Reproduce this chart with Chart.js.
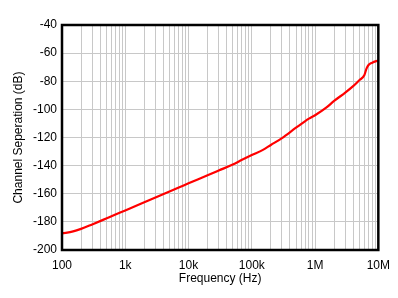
<!DOCTYPE html>
<html><head><meta charset="utf-8">
<script src="https://cdn.jsdelivr.net/npm/chart.js@4"></script>
<style>html,body{margin:0;padding:0;background:#fff}#w{width:398px;height:298px}</style>
</head><body><div id="w"><canvas id="c"></canvas></div>
<script>
const freqHz = [100,150,200,300,500,700,1000,2000,3000,5000,7000,10000,20000,30000,50000,70000,100000,150000,200000,300000,500000,600000,700000,800000,1000000,1500000,2000000,3000000,4000000,5000000,6000000,6500000,7000000,8000000,10000000];
const separationDb = [-188.2,-186.8,-185.0,-181.8,-177.6,-174.8,-171.9,-166.1,-162.7,-158.4,-155.6,-152.6,-146.9,-143.5,-139.2,-135.9,-132.5,-128.8,-125.3,-120.4,-113.0,-110.5,-108.3,-106.6,-104.2,-98.8,-94.0,-88.1,-83.5,-79.3,-75.8,-71.0,-68.5,-66.8,-65.2];
const yTicks = [-200,-180,-160,-140,-120,-100,-80,-60,-40];
const xLabels = {100:'100',1000:'1k',10000:'10k',100000:'100k',1000000:'1M',10000000:'10M'};

const FONT = {family:'"Liberation Sans", Arial, sans-serif', size:12};
const boxPlugin = {id:'box', afterDraw(ch){const a=ch.chartArea,c=ch.ctx;c.save();c.strokeStyle='#000';c.lineWidth=2.5;c.strokeRect(a.left,a.top,a.right-a.left,a.bottom-a.top);c.restore();}};

new Chart(document.getElementById('c'), {
  type:'line',
  data:{datasets:[{data:freqHz.map((f,i)=>({x:f,y:separationDb[i]})),borderColor:'#ff0000',borderWidth:2.2,pointRadius:0,cubicInterpolationMode:'monotone',fill:false}]},
  options:{
    responsive:true,maintainAspectRatio:false,animation:false,
    layout:{padding:{top:25,right:16,left:0,bottom:0}},
    plugins:{legend:{display:false},tooltip:{enabled:false}},
    scales:{
      x:{type:'logarithmic',min:100,max:10000000,
        afterBuildTicks(s){const t=[];for(let d=100;d<10000000;d*=10){for(let k=1;k<10;k++)t.push({value:d*k});}t.push({value:10000000});s.ticks=t;},
        afterFit(s){s.height=48;},
        grid:{color:'#c8c8c8',lineWidth:1,drawTicks:false},
        border:{display:false},
        ticks:{autoSkip:false,maxRotation:0,padding:8,color:'#000',font:FONT,callback(v){return xLabels[v]||'';}},
        title:{display:true,text:'Frequency (Hz)',color:'#000',font:FONT,padding:{top:0,bottom:12}}
      },
      y:{min:-200,max:-40,
        afterBuildTicks(s){s.ticks=yTicks.map(v=>({value:v}));},
        afterFit(s){s.width=62;},
        grid:{color:'#c8c8c8',lineWidth:1,drawTicks:false},
        border:{display:false},
        ticks:{padding:5,color:'#000',font:FONT},
        title:{display:true,text:'Channel Seperation (dB)',color:'#000',font:FONT,padding:{top:11,bottom:0}}
      }
    }
  },
  plugins:[boxPlugin]
});
</script></body></html>
